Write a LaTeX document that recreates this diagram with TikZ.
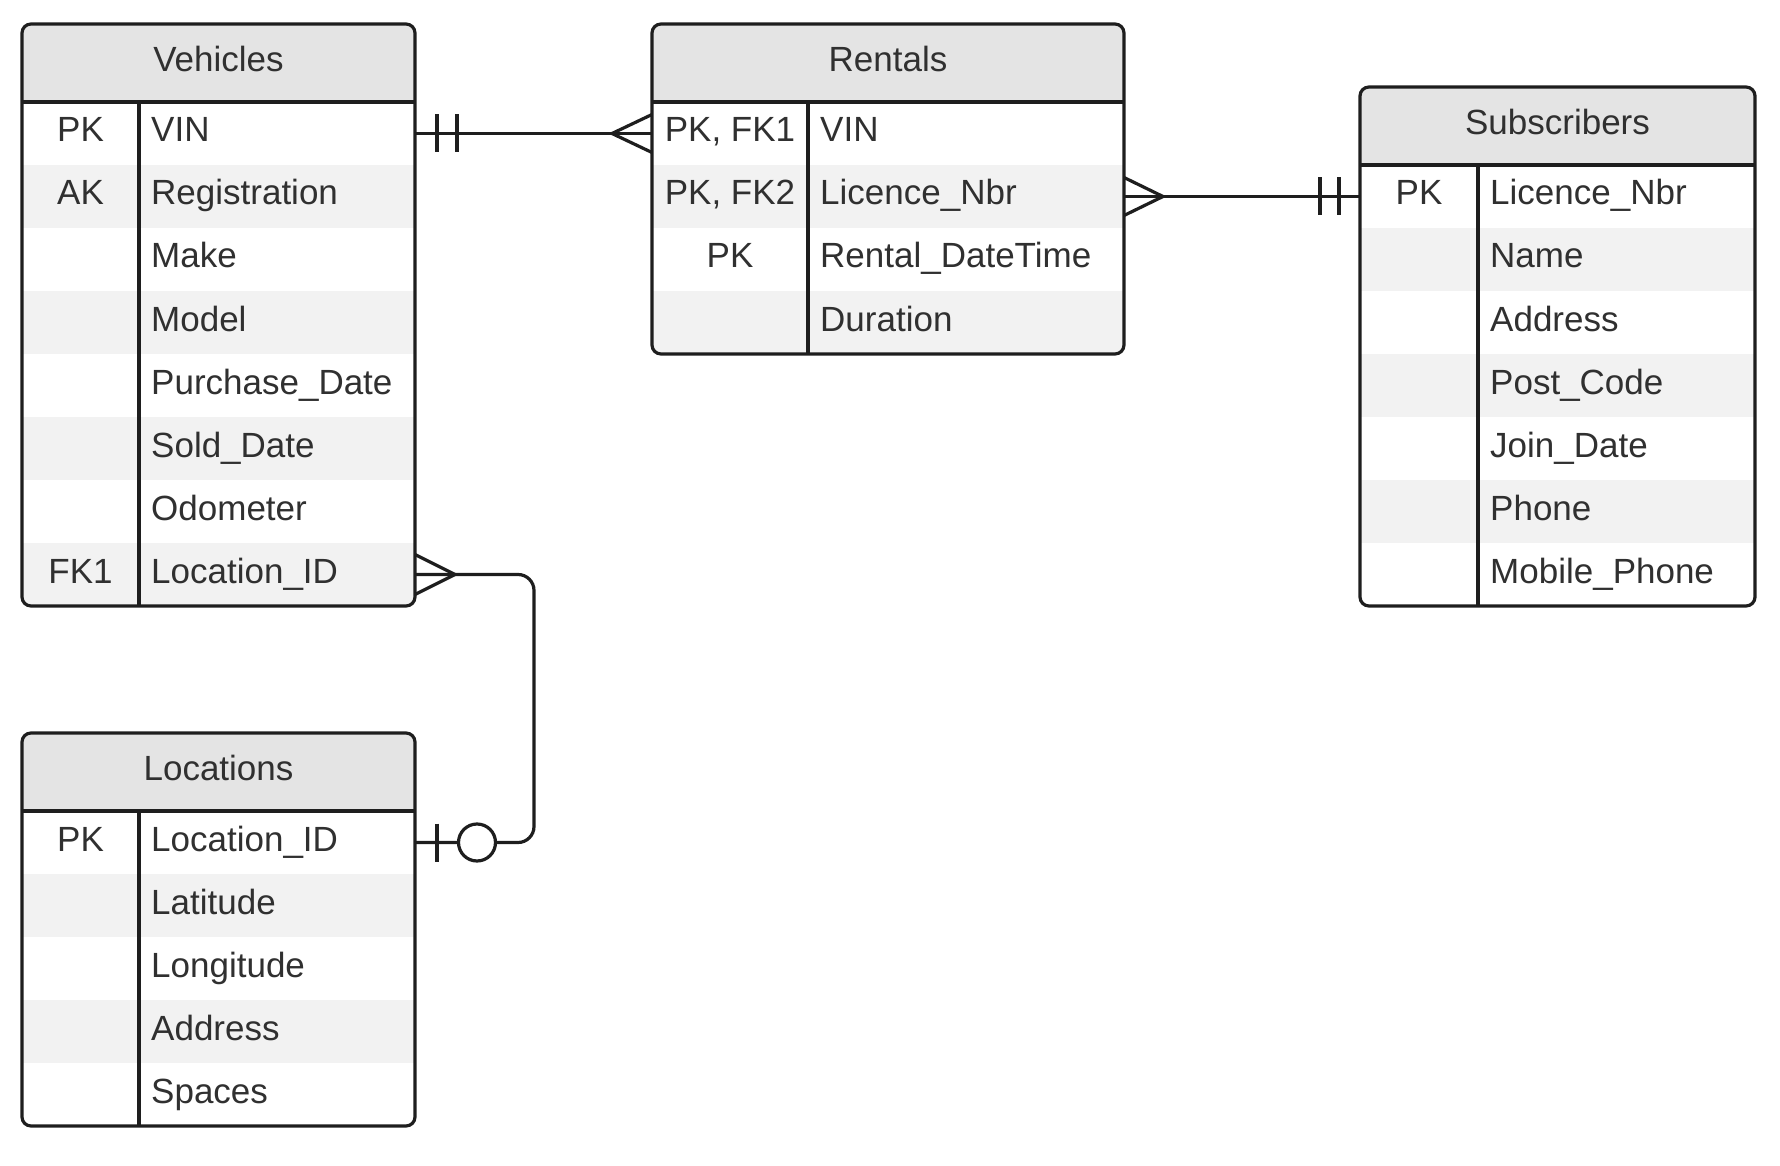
\documentclass[tikz,border=0pt]{standalone}
\usepackage{fontspec}
\setmainfont{Liberation Sans}

\definecolor{headgray}{HTML}{E4E4E4}
\definecolor{rowgray}{HTML}{F2F2F2}
\definecolor{erdink}{HTML}{1E1E1E}

\tikzset{
  erdline/.style={draw=erdink, line width=3.2pt},
  erdtext/.style={inner sep=0pt, text height=25pt, text depth=8pt, text=erdink!92},
  erdrow/.style={inner sep=0pt, outer sep=0pt, minimum height=63pt, anchor=north west},
}

% name, left, top, width, key width, title, rows, key/field list
\newcommand{\erdtable}[8]{%
  \begin{scope}
    \clip[rounded corners=9pt] (#2,#3) rectangle ++(#4,78+63*#7);
    \node[erdrow, fill=headgray, minimum width=#4pt, minimum height=78pt] (#1) at (#2,#3) {};
    \foreach \k/\f [count=\i] in {#8} {
      \ifodd\i\def\rowfill{white}\else\def\rowfill{rowgray}\fi
      \node[erdrow, fill=\rowfill, minimum width=#4pt] (#1-\i) at (#2,#3+78+63*\i-63) {};
    }
  \end{scope}
  \node[erdtext] (#1-title) at (#1) {#6};
  \foreach \k/\f [count=\i] in {#8} {
    \node[erdtext] (#1-\i-key) at ([xshift=#5pt/2]#1-\i.west) {\k};
    \node[erdtext, anchor=west] (#1-\i-field) at ([xshift=#5pt+12pt]#1-\i.west) {\f};
  }
  \draw[erdline] (#1.south west) -- (#1.south east);
  \draw[erdline] ([xshift=#5pt]#1-1.north west) -- ([xshift=#5pt]#1-#7.south west);
  \draw[erdline, rounded corners=9pt] (#2,#3) rectangle ++(#4,78+63*#7);
}

\begin{document}
\begin{tikzpicture}[x=1pt, y=-1pt, font=\fontsize{35}{42}\selectfont]
\useasboundingbox (0,0) rectangle (1780,1166);

\erdtable{veh}{22}{24}{393}{117}{Vehicles}{8}{PK/VIN, AK/Registration, {}/Make, {}/Model,
  {}/Purchase\_Date, {}/Sold\_Date, {}/Odometer, FK1/Location\_ID}
\erdtable{rent}{652}{24}{472}{156}{Rentals}{4}{{PK, FK1}/VIN, {PK, FK2}/Licence\_Nbr,
  PK/Rental\_DateTime, {}/Duration}
\erdtable{subs}{1360}{87}{395}{118}{Subscribers}{7}{PK/Licence\_Nbr, {}/Name, {}/Address,
  {}/Post\_Code, {}/Join\_Date, {}/Phone, {}/Mobile\_Phone}
\erdtable{loc}{22}{733}{393}{117}{Locations}{5}{PK/Location\_ID, {}/Latitude, {}/Longitude,
  {}/Address, {}/Spaces}

% Vehicles -- Rentals
\draw[erdline] (veh-1.east) -- (rent-1.west);
\draw[erdline] ([xshift=22pt]veh-1.east) +(0,-19) -- +(0,19);
\draw[erdline] ([xshift=42pt]veh-1.east) +(0,-19) -- +(0,19);
\draw[erdline] ([yshift=19pt]rent-1.west) -- ([xshift=-40pt]rent-1.west) -- ([yshift=-19pt]rent-1.west);

% Rentals -- Subscribers
\draw[erdline] (rent-2.east) -- (subs-1.west);
\draw[erdline] ([yshift=19pt]rent-2.east) -- ([xshift=39pt]rent-2.east) -- ([yshift=-19pt]rent-2.east);
\draw[erdline] ([xshift=-40pt]subs-1.west) +(0,-19) -- +(0,19);
\draw[erdline] ([xshift=-21pt]subs-1.west) +(0,-19) -- +(0,19);

% Vehicles -- Locations
\draw[erdline, rounded corners=16pt] (veh-8.east) -- ++(119,0) |- (loc-1.east);
\draw[erdline] ([yshift=20pt]veh-8.east) -- ([xshift=40pt]veh-8.east) -- ([yshift=-20pt]veh-8.east);
\draw[erdline] ([xshift=22pt]loc-1.east) +(0,-19) -- +(0,19);
\node[circle, erdline, fill=white, minimum size=37pt, inner sep=0pt] (loc-ring) at ([xshift=62pt]loc-1.east) {};

\end{tikzpicture}
\end{document}
